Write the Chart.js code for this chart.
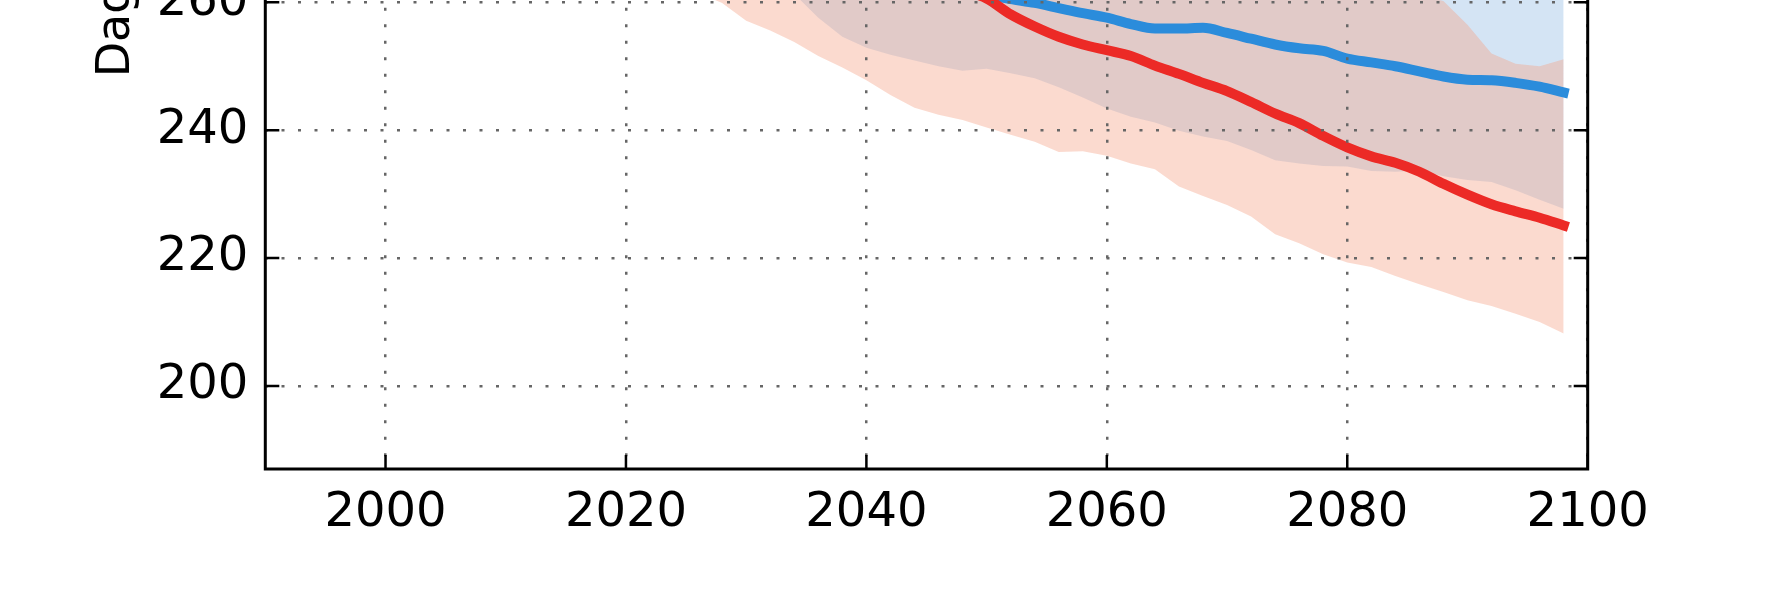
<!DOCTYPE html>
<html>
<head>
<meta charset="utf-8">
<script src="https://cdn.jsdelivr.net/npm/chart.js@4.4.1/dist/chart.umd.min.js"></script>
<style>
  body { margin: 0; overflow: hidden; background: #fff; }
  #wrap { position: absolute; left: 0; top: -500px; width: 1767px; height: 1090px; }
</style>
</head>
<body>
<div id="wrap"><canvas id="myChart" width="1767" height="1090"></canvas></div>
<script>
const years = [2020, 2022, 2024, 2026, 2028, 2030, 2032, 2034, 2036, 2038,
  2040, 2042, 2044, 2046, 2048, 2050, 2052, 2054, 2056, 2058,
  2060, 2062, 2064, 2066, 2068, 2070, 2072, 2074, 2076, 2078,
  2080, 2082, 2084, 2086, 2088, 2090, 2092, 2094, 2096, 2098];

const redMean = [277, 276.5, 275.8, 275, 274.2, 273.3, 272.3, 271.2, 270, 268.8,
  267.5, 266.2, 264.8, 263.4, 262, 260.6, 258.1, 256.2, 254.6, 253.4,
  252.5, 251.6, 250.1, 248.8, 247.4, 246.1, 244.4, 242.6, 241.1, 239.1,
  237.3, 235.9, 234.9, 233.5, 231.6, 229.9, 228.4, 227.3, 226.3, 225.1];
const redHigh = [292, 291, 290, 289, 288, 287, 286, 285, 284, 283,
  282, 281, 280, 279, 278, 277, 276, 275, 274, 273,
  272, 271, 270, 269, 268, 267.2, 266.4, 265.6, 264.8, 264,
  263.3, 262.6, 261.9, 261.1, 260.2, 256.5, 252, 250.4, 250, 251.1];
const redLow = [266, 264.5, 263, 261.5, 259.9, 257.1, 255.6, 253.8, 251.6, 249.8,
  247.8, 245.5, 243.5, 242.4, 241.6, 240.4, 239.3, 238.2, 236.6, 236.7,
  236, 234.8, 233.9, 231.2, 229.7, 228.3, 226.5, 223.7, 222.3, 220.6,
  219.3, 218.6, 217.2, 215.9, 214.7, 213.4, 212.5, 211.3, 210, 208.2];

const blueMean = [276, 275, 274, 273, 272, 271, 270, 269, 268, 267,
  266, 265, 264, 263, 262, 261.2, 260.5, 259.9, 259.1, 258.3,
  257.6, 256.6, 255.9, 255.9, 256, 255.2, 254.3, 253.4, 252.8, 252.4,
  251.2, 250.6, 250, 249.2, 248.4, 247.9, 247.8, 247.4, 246.8, 245.9];
const blueHigh = [295, 294.5, 294, 293.4, 292.8, 292.2, 291.5, 290.9, 290.2, 289.6,
  289, 288.3, 287.6, 287, 286.3, 285.6, 285, 284.3, 283.6, 283,
  282.2, 281.5, 280.8, 280.1, 279.4, 278.7, 278, 277.3, 276.6, 275.9,
  275.2, 274.5, 273.8, 273.1, 272.4, 271.8, 271.1, 270.5, 269.8, 269.2];
const blueLow = [272, 270.5, 269, 267.5, 266, 264.5, 263, 261.3, 257.6, 254.6,
  252.9, 251.8, 250.9, 250, 249.3, 249.6, 248.9, 248.1, 246.7, 245.1,
  243.4, 242.1, 241.2, 239.9, 239, 238.3, 236.9, 235.3, 234.8, 234.4,
  234.3, 233.6, 233.5, 233.7, 232.8, 232.2, 231.9, 230.6, 229.1, 227.7];

const xTicks = [2000, 2020, 2040, 2060, 2080, 2100];
const yTicks = [200, 220, 240, 260];
const yTitle = 'Dagar';

const pts = vals => vals.map((v, i) => ({x: years[i], y: v}));

const band = (vals, color, fill, order) => ({
  data: pts(vals),
  borderWidth: 0,
  borderColor: 'rgba(0,0,0,0)',
  backgroundColor: color,
  pointRadius: 0,
  fill: fill,
  order: order
});

const line = (vals, color, order) => ({
  data: pts(vals),
  borderColor: color,
  borderWidth: 10,
  borderCapStyle: 'square',
  borderJoinStyle: 'round',
  cubicInterpolationMode: 'monotone',
  pointRadius: 0,
  fill: false,
  order: order
});

// box + inward ticks like the original plot
const frame = {
  id: 'frame',
  afterDraw(chart) {
    const {ctx, chartArea: a, scales: {x, y}} = chart;
    ctx.save();
    ctx.strokeStyle = '#000';
    ctx.lineWidth = 3;
    ctx.strokeRect(a.left, a.top, a.right - a.left, a.bottom - a.top);
    ctx.lineWidth = 2.5;
    ctx.beginPath();
    y.ticks.forEach(t => {
      const py = y.getPixelForValue(t.value);
      ctx.moveTo(a.left, py); ctx.lineTo(a.left + 14, py);
      ctx.moveTo(a.right, py); ctx.lineTo(a.right - 14, py);
    });
    x.ticks.forEach(t => {
      const px = x.getPixelForValue(t.value);
      ctx.moveTo(px, a.bottom); ctx.lineTo(px, a.bottom - 14);
      ctx.moveTo(px, a.top); ctx.lineTo(px, a.top + 14);
    });
    ctx.stroke();
    ctx.restore();
  }
};

const tickFont = {family: 'DejaVu Sans', size: 48};
const titleFont = {family: 'DejaVu Sans', size: 46};
const grid = {color: '#666', lineWidth: 2.5, drawTicks: false, z: 1};
const border = {display: false, dash: [3, 13.5]};

const config = {
  type: 'line',
  data: {
    datasets: [
      line(redMean, '#ec2a26', 0),
      line(blueMean, '#2b8cdb', 1),
      band(redHigh, 'rgba(245,162,135,0.4)', '+1', 2),
      band(redLow, 'rgba(0,0,0,0)', false, 3),
      band(blueHigh, 'rgba(148,188,228,0.4)', '+1', 4),
      band(blueLow, 'rgba(0,0,0,0)', false, 5)
    ]
  },
  options: {
    responsive: false,
    devicePixelRatio: 1,
    animation: false,
    layout: {padding: {top: 45, right: 179.3, bottom: 0, left: 0}},
    plugins: {legend: {display: false}, tooltip: {enabled: false}},
    scales: {
      x: {
        type: 'linear',
        min: 1990,
        max: 2100,
        afterFit: s => { s.height = 121; },
        afterBuildTicks: s => { s.ticks = xTicks.map(v => ({value: v})); },
        ticks: {font: tickFont, color: '#000', padding: 16, callback: v => String(v)},
        grid: grid,
        border: border
      },
      y: {
        type: 'linear',
        min: 187,
        max: 331.4,
        afterFit: s => { s.width = 265.3; },
        afterBuildTicks: s => { s.ticks = yTicks.map(v => ({value: v})); },
        ticks: {font: tickFont, color: '#000', padding: 17},
        grid: grid,
        border: border,
        title: {display: true, text: yTitle, font: titleFont, color: '#000', padding: {top: 89, bottom: 0}}
      }
    }
  },
  plugins: [frame]
};

const myChart = new Chart(document.getElementById('myChart'), config);
</script>
</body>
</html>
